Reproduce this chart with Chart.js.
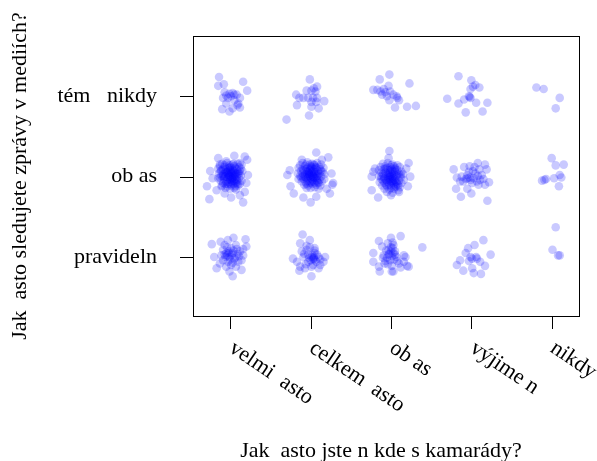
<!DOCTYPE html>
<html>
<head>
<meta charset="utf-8">
<script src="https://cdn.jsdelivr.net/npm/chart.js@4.4.1/dist/chart.umd.min.js"></script>
<style>
  html, body { margin: 0; padding: 0; background: #fff; }
  canvas { display: block; }
</style>
</head>
<body>
<canvas id="jitterChart" width="597" height="461"></canvas>
<script>
// Categories (missing Czech glyphs rendered as gaps, like the original)
const xCategories = ['velmi  asto', 'celkem  asto', 'ob as', 'výjime n', 'nikdy'];
const yCategories = ['pravideln', 'ob as', 'tém   nikdy'];
const xTitle = 'Jak  asto jste n kde s kamarády?';
const yTitle = 'Jak  asto sledujete zprávy v mediích?';

// Jittered answers: [x, y]
const rowPravidelne = [
  [0.77,1.16],[0.88,1.19],[0.97,1.21],[1.04,1.24],[1.19,1.22],[1.16,1.10],[1.20,1.13],[0.80,1.00],[0.91,1.09],[0.95,1.05],
  [1.01,1.11],[1.07,1.15],[1.12,1.07],[0.99,1.00],[1.05,0.98],[0.91,0.96],[1.14,0.96],[1.10,0.94],[0.83,0.86],[0.95,0.88],
  [0.99,0.82],[1.03,0.76],[1.14,0.84],[0.87,0.92],[0.93,1.15],[1.03,1.05],[0.97,0.94],[1.07,0.88],[1.01,0.90],[1.16,1.02],
  [0.96,1.02],[1.02,1.03],[1.06,0.99],[0.93,1.03],[1.09,1.04],
  [0.98,1.07],[1.04,1.08],[0.94,1.00],[1.00,0.97],[1.08,1.10],[0.96,1.12],[1.03,0.93],[0.89,1.02],[1.11,1.01],[0.98,1.05],
  [1.90,1.28],[1.87,1.17],[1.99,1.21],[2.05,1.11],[1.95,1.09],[1.78,0.98],[1.83,0.94],[1.91,1.00],[2.01,1.00],[2.04,0.98],
  [2.10,1.00],[2.18,1.00],[2.16,0.94],[1.87,0.88],[1.93,0.86],[2.01,0.88],[2.10,0.86],[2.01,0.76],[2.12,0.90],[1.97,0.94],
  [2.05,1.05],[1.89,1.07],[2.03,0.98],[2.06,0.96],[2.00,0.96],[1.86,0.83],[2.08,1.03],[1.97,1.03],[1.95,1.14],
  [2.02,1.02],[2.05,1.08],[1.99,1.12],[2.07,0.94],[1.94,0.91],[2.03,0.90],[1.92,1.04],[2.12,0.97],[1.98,0.99],[2.04,1.00],
  [2.85,1.20],[3.00,1.24],[3.12,1.26],[3.03,1.15],[2.97,1.09],[3.02,1.11],[2.78,1.05],[2.91,1.02],[2.99,0.96],[3.07,1.00],
  [3.16,1.02],[3.20,0.89],[3.22,0.88],[2.78,0.94],[2.85,0.88],[2.92,0.92],[3.01,0.82],[3.12,0.87],[2.86,0.82],[3.39,1.12],
  [2.96,1.17],[3.05,1.07],[3.10,0.92],[2.89,1.13],[3.18,1.00],[3.16,0.94],[3.03,0.82],[2.98,1.04],[3.01,1.01],[2.95,0.99],
  [3.00,1.07],[2.93,0.95],[3.04,0.97],
  [3.00,1.12],[3.02,1.18],[2.94,1.08],[3.05,1.03],[2.96,0.91],[2.90,0.99],[3.08,0.95],[3.01,0.89],[2.97,1.03],[3.03,1.05],
  [4.15,1.21],[4.04,1.15],[3.96,1.11],[4.24,1.03],[3.93,1.05],[4.01,0.98],[4.07,0.98],[4.11,0.94],[3.86,0.96],[3.82,0.90],
  [3.97,0.95],[4.17,0.89],[3.90,0.83],[4.01,0.86],[4.03,0.80],[4.12,0.79],[3.99,1.00],[4.06,1.00],
  [5.05,1.37],[5.01,1.09],[5.08,1.02],[5.10,1.02]
];

const rowObcas = [
  [0.85,2.23],[1.05,2.26],[1.18,2.25],[1.21,2.21],[0.75,2.07],[1.22,2.02],[0.71,1.88],[0.83,1.83],[0.74,1.72],[0.93,1.79],
  [1.01,1.74],[1.12,1.77],[1.16,1.68],[1.18,1.81],[1.20,1.92],[0.87,2.15],[0.95,2.19],[1.12,2.17],[0.78,1.98],[0.89,1.88],
  [1.07,1.84],
  [0.90,2.16],[0.96,2.17],[1.03,2.15],[1.09,2.16],[1.14,2.15],[0.87,2.13],[0.93,2.12],[0.99,2.14],[1.05,2.13],[1.11,2.12],
  [0.85,2.10],[0.91,2.09],[0.97,2.11],[1.02,2.10],[1.08,2.09],[1.13,2.10],[0.88,2.07],[0.94,2.06],[1.00,2.08],[1.05,2.07],
  [1.10,2.06],[1.15,2.07],[0.86,2.04],[0.91,2.03],[0.96,2.05],[1.01,2.04],[1.06,2.03],[1.11,2.04],[0.89,2.01],[0.94,2.00],
  [0.99,2.01],[1.03,2.02],[1.08,2.00],[1.13,2.01],[0.85,1.98],[0.92,1.97],[0.97,1.99],[1.02,1.98],[1.06,1.97],[1.11,1.98],
  [0.88,1.95],[0.95,1.94],[1.00,1.96],[1.04,1.95],[1.09,1.94],[1.14,1.95],[0.91,1.92],[0.97,1.91],[1.02,1.93],[1.07,1.92],
  [1.12,1.91],[0.90,1.89],[0.96,1.88],[1.01,1.89],[1.06,1.88],[1.10,1.89],[0.94,1.86],[1.00,1.85],[1.05,1.86],[0.98,2.03],
  [1.04,2.00],[1.00,1.97],[0.95,2.06],[1.07,2.04],[1.03,2.08],[0.92,1.99],[1.05,1.94],
  [0.93,2.14],[0.99,2.11],[1.06,2.11],[0.89,2.08],[0.97,2.07],[1.03,2.05],[1.09,2.03],[0.93,2.04],[0.98,2.00],[1.01,2.06],
  [1.06,2.01],[0.91,2.01],[0.96,1.96],[1.02,1.95],[1.08,1.96],[0.98,1.93],[1.04,1.91],[0.94,1.91],[1.00,1.91],[1.09,1.91],
  [0.87,1.99],[1.12,2.07],[1.00,2.12],[1.04,2.16],[0.95,2.09],[1.01,2.00],[1.05,2.05],[0.99,2.05],[1.03,1.98],[0.97,2.02],
  [2.07,2.30],[2.22,2.24],[1.89,2.21],[1.74,2.08],[1.71,2.02],[2.26,2.04],[2.28,1.92],[1.75,1.88],[1.79,1.79],[1.91,1.74],
  [2.00,1.68],[2.07,1.75],[2.24,1.79],[2.20,1.85],[2.14,2.21],[2.27,1.90],
  [1.90,2.17],[1.96,2.18],[2.02,2.16],[2.08,2.17],[2.13,2.15],[1.87,2.14],[1.93,2.13],[1.99,2.15],[2.05,2.14],[2.11,2.12],
  [2.16,2.11],[1.85,2.11],[1.90,2.10],[1.96,2.11],[2.02,2.10],[2.07,2.11],[2.12,2.09],[1.88,2.07],[1.94,2.07],[1.99,2.08],
  [2.04,2.06],[2.09,2.07],[2.15,2.06],[1.84,2.04],[1.90,2.04],[1.96,2.03],[2.01,2.05],[2.06,2.03],[2.11,2.04],[2.17,2.03],
  [1.87,2.01],[1.93,2.00],[1.98,2.01],[2.03,2.00],[2.08,2.01],[2.13,2.00],[1.85,1.97],[1.91,1.97],[1.96,1.98],[2.01,1.97],
  [2.06,1.98],[2.11,1.96],[2.17,1.97],[1.89,1.94],[1.94,1.93],[1.99,1.95],[2.04,1.94],[2.09,1.93],[2.14,1.94],[1.92,1.90],
  [1.97,1.89],[2.02,1.91],[2.07,1.90],[2.12,1.89],[1.95,1.86],[2.00,1.86],[2.05,1.87],[2.10,1.85],[1.98,2.04],[2.03,2.02],
  [2.00,1.99],[1.96,2.06],[2.05,2.09],[1.94,1.99],[2.08,1.98],[2.01,2.12],
  [1.94,2.15],[2.00,2.13],[2.06,2.12],[1.91,2.08],[1.98,2.06],[2.04,2.04],[2.09,2.03],[1.93,2.03],[1.99,2.02],[2.02,2.07],
  [2.07,2.00],[1.90,2.00],[1.96,1.95],[2.03,1.96],[2.08,1.95],[1.99,1.92],[2.05,1.92],[1.95,1.91],[2.01,1.93],[2.10,1.92],
  [1.88,1.99],[2.13,2.07],[2.00,2.10],[2.04,2.15],[1.95,2.09],[2.02,2.01],[2.06,2.06],[1.98,2.04],[2.04,1.99],[1.97,2.00],
  [2.98,2.32],[2.97,2.23],[2.80,2.10],[2.76,2.00],[3.22,2.17],[3.24,2.00],[3.21,1.88],[2.76,1.83],[2.84,1.74],[3.00,1.77],
  [3.10,1.81],[2.78,2.06],[3.19,2.10],
  [2.90,2.16],[2.96,2.17],[3.02,2.15],[3.08,2.14],[2.87,2.12],[2.93,2.13],[2.99,2.12],[3.05,2.11],[3.11,2.12],[2.85,2.08],
  [2.91,2.09],[2.96,2.08],[3.02,2.07],[3.08,2.08],[3.13,2.06],[2.88,2.05],[2.94,2.04],[2.99,2.05],[3.04,2.03],[3.10,2.04],
  [3.15,2.03],[2.85,2.01],[2.91,2.00],[2.97,2.01],[3.02,2.00],[3.07,2.01],[3.12,1.99],[2.88,1.97],[2.94,1.96],[2.99,1.97],
  [3.05,1.96],[3.10,1.95],[3.16,1.96],[2.86,1.93],[2.92,1.92],[2.97,1.93],[3.03,1.92],[3.08,1.91],[3.13,1.92],[2.89,1.89],
  [2.95,1.88],[3.00,1.89],[3.06,1.88],[3.11,1.87],[2.92,1.85],[2.98,1.84],[3.04,1.85],[3.09,1.83],[2.95,1.81],[3.02,1.80],
  [2.98,2.02],[3.03,1.98],[3.00,1.94],[2.96,1.99],[3.06,1.94],[2.93,2.06],[3.01,2.09],[3.04,1.90],
  [2.93,2.10],[2.99,2.08],[3.05,2.09],[2.90,2.03],[2.97,2.04],[3.03,2.05],[3.08,2.03],[2.92,1.98],[2.98,1.99],[3.01,2.03],
  [3.06,1.99],[2.90,1.95],[2.95,1.94],[3.02,1.94],[3.07,1.93],[2.98,1.90],[3.04,1.87],[2.94,1.90],[3.00,1.86],[3.09,1.89],
  [2.88,2.00],[3.12,2.02],[3.00,2.14],[3.04,2.13],[2.95,2.11],[3.01,1.97],[3.05,2.06],[2.97,1.96],[3.03,1.95],[2.99,2.00],
  [3.78,2.09],[3.91,2.12],[3.98,2.13],[4.08,2.17],[4.17,2.15],[4.19,2.09],[4.10,2.09],[4.04,2.12],[3.82,1.99],[3.88,2.00],
  [3.95,2.02],[3.99,1.96],[4.03,1.98],[4.08,2.01],[4.13,2.02],[4.15,1.97],[4.22,1.93],[4.17,1.90],[4.09,1.90],[4.01,1.92],
  [3.95,1.85],[4.00,1.79],[3.87,1.75],[3.81,1.85],[4.20,1.70],[3.90,1.94],[4.05,2.04],[3.97,2.06],[4.11,1.96],[3.86,1.94],
  [3.95,1.98],[3.98,1.99],[3.93,1.97],[4.07,1.94],[4.02,2.07],
  [5.00,2.23],[5.05,2.14],[5.15,2.15],[4.88,1.95],[4.91,1.96],[4.93,1.97],[5.03,1.98],[5.10,2.02],[5.12,1.99],[5.09,1.88]
];

const rowTemerNikdy = [
  [0.86,3.24],[0.92,3.15],[0.85,3.13],[1.16,3.18],[1.21,3.07],[0.93,3.05],[0.95,3.01],[0.99,3.03],[1.03,3.04],[1.08,3.02],
  [1.12,2.98],[0.97,2.98],[0.91,2.98],[1.05,2.95],[1.10,2.91],[1.09,2.89],[1.12,2.86],[0.95,2.91],[0.90,2.84],[0.99,2.81],
  [1.03,2.85],[1.05,3.02],[1.01,3.00],
  [1.99,3.21],[2.08,3.12],[2.04,3.10],[2.06,3.06],[2.01,3.07],[1.95,3.07],[1.82,3.02],[1.86,2.98],[1.91,2.98],[1.97,2.98],
  [2.03,2.98],[2.08,2.98],[2.17,2.94],[1.83,2.89],[2.01,2.93],[2.07,2.93],[2.01,2.87],[2.10,2.85],[1.70,2.71],[1.98,2.76],
  [2.98,3.27],[2.86,3.21],[3.23,3.16],[2.97,3.13],[2.91,3.09],[2.78,3.08],[2.83,3.08],[2.87,3.06],[2.93,3.05],[2.99,3.06],
  [3.03,3.02],[2.89,3.02],[2.95,3.00],[3.08,2.98],[3.10,2.95],[2.98,2.95],[3.05,2.86],[3.20,2.87],[3.31,2.88],[3.07,3.00],
  [3.84,3.25],[4.00,3.20],[4.05,3.14],[4.02,3.12],[4.10,3.11],[3.99,3.09],[3.97,3.00],[3.99,2.98],[3.91,2.96],[3.70,2.97],
  [3.84,2.91],[4.06,2.92],[4.20,2.92],[3.93,2.80],[4.14,2.81],[3.98,2.99],
  [4.81,3.11],[4.90,3.09],[5.10,2.98],[5.05,2.85]
];

const serif = '"Liberation Serif", "Times New Roman", serif';
const toPoints = rows => rows.map(p => ({ x: p[0], y: p[1] }));
const noPad = s => { s.paddingTop = 0; s.paddingBottom = 0; s.paddingLeft = 0; s.paddingRight = 0; };

// draw plot frame, tick marks, rotated x labels and axis titles like base R
const rFrame = {
  id: 'rFrame',
  afterDraw(chart) {
    const { ctx, chartArea: a } = chart;
    const xs = chart.scales.x;
    const ys = chart.scales.y;
    ctx.save();
    ctx.strokeStyle = '#000';
    ctx.lineWidth = 1;
    ctx.strokeRect(a.left + 0.5, a.top + 0.5, a.right - a.left, a.bottom - a.top);

    ctx.beginPath();
    xCategories.forEach((lab, i) => {
      const px = Math.round(xs.getPixelForValue(i + 1)) + 0.5;
      ctx.moveTo(px, a.bottom);
      ctx.lineTo(px, a.bottom + 13);
    });
    yCategories.forEach((lab, i) => {
      const py = Math.round(ys.getPixelForValue(i + 1)) + 0.5;
      ctx.moveTo(a.left - 13, py);
      ctx.lineTo(a.left, py);
    });
    ctx.stroke();

    ctx.fillStyle = '#000';
    ctx.font = '22px ' + serif;
    ctx.textAlign = 'left';
    ctx.textBaseline = 'top';
    xCategories.forEach((lab, i) => {
      const px = xs.getPixelForValue(i + 1);
      ctx.save();
      ctx.translate(px + 7, a.bottom + 21);
      ctx.rotate(34 * Math.PI / 180);
      ctx.fillText(lab, 0, 0);
      ctx.restore();
    });

    ctx.textAlign = 'center';
    ctx.textBaseline = 'alphabetic';
    ctx.fillText(xTitle, 381, 457);

    ctx.save();
    ctx.translate(26, 176);
    ctx.rotate(-Math.PI / 2);
    ctx.fillText(yTitle, 0, 0);
    ctx.restore();
    ctx.restore();
  }
};

const ctx = document.getElementById('jitterChart').getContext('2d');
const jitterChart = new Chart(ctx, {
  type: 'scatter',
  data: {
    datasets: [rowPravidelne, rowObcas, rowTemerNikdy].map(rows => ({
      data: toPoints(rows),
      pointRadius: 4.3,
      pointBorderWidth: 0,
      pointBackgroundColor: 'rgba(0, 0, 255, 0.21)',
      pointBorderColor: 'rgba(0, 0, 0, 0)'
    }))
  },
  options: {
    responsive: false,
    animation: false,
    devicePixelRatio: 1,
    layout: { padding: { top: 36, right: 18, left: 0, bottom: 0 } },
    plugins: { legend: { display: false }, tooltip: { enabled: false } },
    scales: {
      x: {
        type: 'linear',
        min: 0.536,
        max: 5.34,
        afterBuildTicks: s => { s.ticks = [1, 2, 3, 4, 5].map(v => ({ value: v })); },
        afterFit: s => { s.height = 145; noPad(s); },
        ticks: { display: false },
        grid: { display: false },
        border: { display: false }
      },
      y: {
        type: 'linear',
        min: 0.266,
        max: 3.75,
        afterBuildTicks: s => { s.ticks = [1, 2, 3].map(v => ({ value: v })); },
        afterFit: s => { s.width = 193; noPad(s); },
        ticks: {
          padding: 36,
          color: '#000',
          font: { family: serif, size: 22 },
          callback: v => yCategories[v - 1]
        },
        grid: { display: false, drawTicks: false },
        border: { display: false }
      }
    }
  },
  plugins: [rFrame]
});
</script>
</body>
</html>
